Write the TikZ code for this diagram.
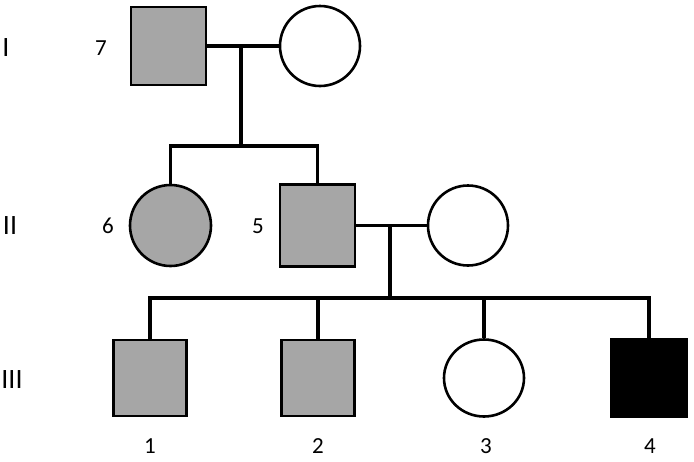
\documentclass[tikz,border=0pt]{standalone}
\usepackage{fontspec}
\setmainfont{Carlito}
\usetikzlibrary{shapes.geometric}
\definecolor{affgray}{HTML}{A6A6A6}
\tikzset{
  male/.style={draw, line width=2.6pt, rectangle, inner sep=0pt, fill=affgray},
  female/.style={draw, line width=2.6pt, circle, inner sep=0pt, fill=white},
  conn/.style={line width=3.2pt},
  gen/.style={font=\fontsize{28}{30}\selectfont, inner sep=0pt},
  idlab/.style={font=\fontsize{23}{25}\selectfont, inner sep=0pt}
}
\begin{document}
\begin{tikzpicture}[x=1pt,y=-1pt]
\useasboundingbox (0,0) rectangle (694,461);
% Generation I
\node[male, minimum width=75pt, minimum height=78pt] (sq7) at (168.5,46) {};
\node[female, minimum size=80pt] (c1) at (320,46) {};
% Generation II
\node[female, fill=affgray, minimum size=81pt] (c6) at (170.5,225.5) {};
\node[male, minimum width=75pt, minimum height=82pt] (sq5) at (317.5,225.5) {};
\node[female, minimum size=80pt] (c2) at (468,225.5) {};
% Generation III
\node[male, minimum width=73pt, minimum height=76pt] (sq1) at (150,378) {};
\node[male, minimum width=73pt, minimum height=76pt] (sq2) at (318,378) {};
\node[draw, line width=2.6pt, ellipse, inner sep=0pt, minimum width=80pt, minimum height=77pt] (c3) at (484,378) {};
\node[male, fill=black, minimum width=75pt, minimum height=77pt] (sq4) at (649,378) {};
% connector points
\coordinate (m1) at (241,46);
\coordinate (s1) at (241,146);
\coordinate (m2) at (390,225.5);
\coordinate (s2) at (390,298);
% connectors
\draw[conn] (sq7.east) -- (c1.west);
\draw[conn] (m1) -- (s1);
\draw[conn] (c6.north) -- (c6.north |- s1) -- (sq5.north |- s1) -- (sq5.north);
\draw[conn] (sq5.east) -- (c2.west);
\draw[conn] (m2) -- (s2);
\draw[conn] (sq1.north) -- (sq1.north |- s2) -- (sq4.north |- s2) -- (sq4.north);
\draw[conn] (sq2.north |- s2) -- (sq2.north);
\draw[conn] (c3.north |- s2) -- (c3.north);
% labels
\node[gen] (gI) at (6,48) {I};
\node[gen] (gII) at (10,226) {II};
\node[gen] (gIII) at (12,380) {III};
\node[idlab] (l7) at (101,48) {7};
\node[idlab] (l6) at (108,226) {6};
\node[idlab] (l5) at (258,226) {5};
\node[idlab] (l1) at (150,446) {1};
\node[idlab] (l2) at (318,446) {2};
\node[idlab] (l3) at (486,446) {3};
\node[idlab] (l4) at (650,446) {4};
\end{tikzpicture}
\end{document}
